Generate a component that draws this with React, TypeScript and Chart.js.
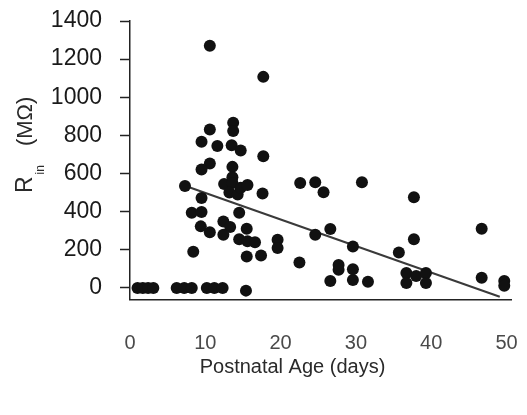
import React, { useEffect, useRef } from "react";
import { Chart, registerables } from "chart.js";

Chart.register(...registerables);

// Postnatal age of each recorded cell (days)
const ageDays = [
  1.0, 1.7, 2.4, 3.1, 6.2, 7.2, 8.2, 10.2, 11.2, 12.3, 15.4,
  10.6, 17.7, 10.6, 13.7, 13.7, 9.5, 11.6, 13.5, 14.7, 17.7,
  10.6, 9.5, 13.6, 13.6, 7.3, 12.5, 13.6, 13.2, 14.3, 14.7,
  15.6, 17.6, 22.6, 9.5, 14.5, 8.2, 9.5, 9.4, 10.6, 12.4,
  13.3, 12.4, 15.5, 14.5, 15.6, 16.6, 19.6, 19.6, 8.4, 15.5,
  17.4, 22.5, 24.6, 25.7, 30.8, 37.7, 26.6, 24.6, 46.7, 37.7,
  29.6, 35.7, 27.7, 27.7, 29.6, 29.6, 26.6, 31.6, 36.7, 36.7,
  38.0, 39.3, 39.3, 46.7, 49.7, 49.7,
];

// Input resistance of each cell (MΩ)
const inputResistance = [
  0, 0, 0, 0, 0, 0, 0, 0, 0, 0, -14,
  1270, 1107, 831, 867, 823, 767, 744, 749, 721, 691,
  653, 621, 635, 580, 535, 545, 551, 500, 490, 525,
  540, 495, 551, 472, 395, 395, 398, 323, 292, 349,
  320, 279, 311, 255, 245, 240, 253, 209, 190, 165,
  170, 134, 554, 502, 554, 476, 309, 279, 311, 256,
  217, 186, 121, 95, 98, 42, 37, 33, 79, 26,
  63, 79, 26, 54, 37, 11,
];

// Linear fit endpoints
const fitAge = [7.2, 49.1];
const fitResistance = [537, -46];

const xTickValues = [0, 10, 20, 30, 40, 50];
const yTickValues = [0, 200, 400, 600, 800, 1000, 1200, 1400];

const X_TITLE = "Postnatal Age (days)";
const FONT = '"Liberation Sans", Arial, Helvetica, sans-serif';

// Short minor ticks on the y axis plus both axis titles (the y title has a subscript)
const decorations = {
  id: "decorations",
  afterDraw(chart: any) {
    const { ctx, chartArea, scales } = chart;
    const y = scales.y;
    ctx.save();
    ctx.strokeStyle = "#222";
    ctx.lineWidth = 1.5;
    for (const t of y.ticks) {
      if (yTickValues.includes(t.value)) continue;
      const py = Math.round(y.getPixelForValue(t.value)) + 0.5;
      ctx.beginPath();
      ctx.moveTo(chartArea.left - 5, py);
      ctx.lineTo(chartArea.left + 1, py);
      ctx.stroke();
    }

    ctx.fillStyle = "#2a2a2a";
    ctx.font = `20px ${FONT}`;
    ctx.textAlign = "center";
    ctx.textBaseline = "middle";
    ctx.fillText(X_TITLE, chartArea.left + 162.5, chartArea.bottom + 67.6);

    ctx.translate(chartArea.left - 98, chartArea.top + 172);
    ctx.rotate(-Math.PI / 2);
    ctx.textAlign = "left";
    ctx.textBaseline = "alphabetic";
    ctx.font = `23px ${FONT}`;
    ctx.fillText("R", 0, 0);
    let pos = ctx.measureText("R").width + 2;
    ctx.font = `12px ${FONT}`;
    ctx.fillText("in", pos, 12);
    pos += ctx.measureText("in").width + 19;
    ctx.font = `22px ${FONT}`;
    ctx.fillText("(MΩ)", pos, 0);
    ctx.restore();
  },
};

export default function App() {
  const canvasRef = useRef<HTMLCanvasElement | null>(null);

  useEffect(() => {
    if (!canvasRef.current) return;
    const points = ageDays.map((a, i) => ({ x: a, y: inputResistance[i] }));
    const fit = fitAge.map((a, i) => ({ x: a, y: fitResistance[i] }));

    const chart = new Chart(canvasRef.current, {
      type: "scatter",
      data: {
        datasets: [
          {
            data: points,
            backgroundColor: "#111",
            borderWidth: 0,
            pointRadius: 6,
            pointHoverRadius: 6,
          },
          {
            data: fit,
            showLine: true,
            borderColor: "#3a3a3a",
            borderWidth: 2,
            pointRadius: 0,
            fill: false,
          },
        ],
      },
      options: {
        animation: false,
        responsive: true,
        maintainAspectRatio: false,
        layout: { padding: { left: 0, top: 13, right: 15.2, bottom: 34 } },
        plugins: { legend: { display: false }, tooltip: { enabled: false } },
        scales: {
          x: {
            type: "linear",
            min: 0,
            max: 50.7,
            afterFit: (s: any) => {
              s.height = 79.6;
              s.paddingLeft = 0;
              s.paddingRight = 0;
            },
            grid: { display: false, drawTicks: false },
            border: { display: true, color: "#222", width: 1.5 },
            ticks: {
              stepSize: 10,
              includeBounds: false,
              padding: 34,
              color: "#4a4a4a",
              font: { family: FONT, size: 20, lineHeight: 1 },
              maxRotation: 0,
              callback: (v: any) => (xTickValues.includes(v) ? String(v) : ""),
            },
          },
          y: {
            type: "linear",
            min: -60,
            max: 1400,
            afterFit: (s: any) => {
              s.width = 122;
              s.paddingTop = 0;
              s.paddingBottom = 0;
            },
            grid: {
              display: true,
              drawOnChartArea: false,
              drawTicks: true,
              tickLength: 10,
              tickWidth: 1.5,
              tickColor: (c: any) =>
                c.tick && yTickValues.includes(c.tick.value) ? "#222" : "rgba(0,0,0,0)",
            },
            border: { display: true, color: "#222", width: 1.5 },
            ticks: {
              stepSize: 100,
              includeBounds: false,
              padding: 18,
              color: "#1a1a1a",
              font: { family: FONT, size: 23, lineHeight: 1 },
              callback: (v: any) => (yTickValues.includes(v) ? String(v) : ""),
            },
          },
        },
      },
      plugins: [decorations],
    });
    return () => chart.destroy();
  }, []);

  return (
    <div style={{ width: 519, height: 405, position: "relative" }}>
      <canvas ref={canvasRef} />
    </div>
  );
}
